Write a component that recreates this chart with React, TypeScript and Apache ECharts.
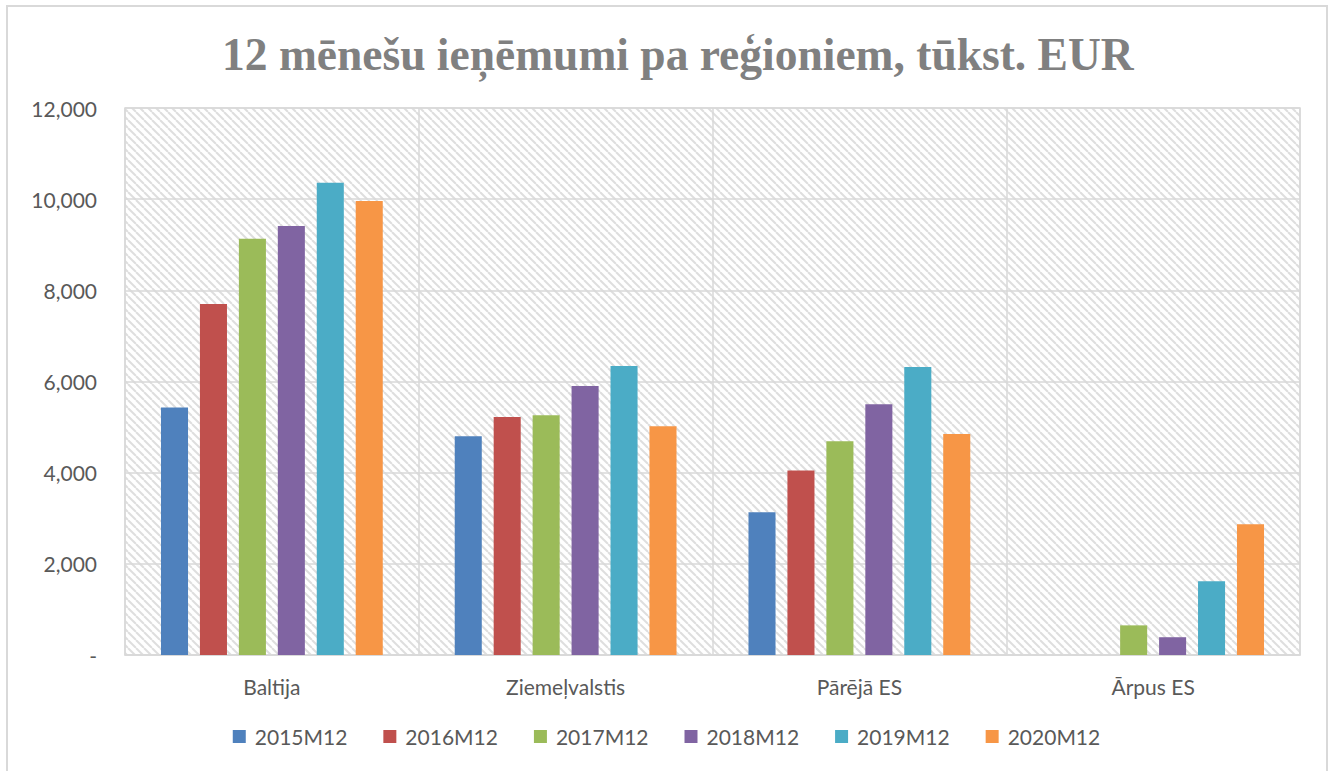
import React, { useEffect, useRef } from "react";
import * as echarts from "echarts";

const categories = ["Baltija", "Ziemeļvalstis", "Pārējā ES", "Ārpus ES"];
const seriesNames = ["2015M12", "2016M12", "2017M12", "2018M12", "2019M12", "2020M12"];
const v2015 = [5430, 4800, 3130, 0];
const v2016 = [7700, 5220, 4050, 0];
const v2017 = [9130, 5260, 4690, 650];
const v2018 = [9410, 5900, 5500, 390];
const v2019 = [10360, 6340, 6320, 1620];
const v2020 = [9960, 5020, 4850, 2870];
const seriesValues = [v2015, v2016, v2017, v2018, v2019, v2020];
const colors = ["#4F81BD", "#C0504D", "#9BBB59", "#8064A2", "#4BACC6", "#F79646"];
const yTicks = { min: 0, max: 12000, interval: 2000 };
const title = "12 mēnešu ieņēmumi pa reģioniem, tūkst. EUR";

function makePattern(): string {
  const c = document.createElement("canvas");
  c.width = 8;
  c.height = 8;
  const ctx = c.getContext("2d")!;
  ctx.fillStyle = "#ffffff";
  ctx.fillRect(0, 0, 8, 8);
  ctx.strokeStyle = "#dedede";
  ctx.lineWidth = 2;
  for (let k = -8; k <= 8; k += 8) {
    ctx.beginPath();
    ctx.moveTo(k, 0);
    ctx.lineTo(k + 8, 8);
    ctx.stroke();
  }
  return c.toDataURL();
}

export default function App() {
  const ref = useRef<HTMLDivElement>(null);
  useEffect(() => {
    if (!ref.current) return;
    const chart = echarts.init(ref.current, null, { renderer: "svg" });
    const font = "Lato";
    chart.setOption({
      animation: false,
      backgroundColor: "#ffffff",
      title: {
        text: title,
        left: 217,
        top: 26,
        textStyle: {
          fontFamily: "Liberation Serif",
          fontWeight: "bold",
          fontSize: 45.5,
          color: "#808080",
        },
      },
      graphic: [
        {
          type: "rect",
          shape: { x: 7, y: 6, width: 1320, height: 800 },
          style: { fill: "none", stroke: "#d9d9d9", lineWidth: 2 },
          silent: true,
          z: -1,
        },
      ],
      legend: {
        bottom: 19,
        left: "center",
        itemWidth: 13,
        itemHeight: 13,
        itemGap: 36,
        icon: "rect",
        textStyle: { fontFamily: font, fontSize: 21, color: "#595959", padding: [0, 0, 0, 4] },
        data: seriesNames,
      },
      grid: {
        left: 125,
        right: 33,
        top: 108,
        bottom: 116,
        show: true,
        backgroundColor: { image: makePattern(), repeat: "repeat" },
        borderColor: "#d9d9d9",
        borderWidth: 1.5,
      },
      xAxis: {
        type: "category",
        data: categories,
        axisLine: { lineStyle: { color: "#d9d9d9", width: 1.5 } },
        axisTick: { show: false },
        axisLabel: { fontFamily: font, fontSize: 21, color: "#595959", margin: 21 },
        splitLine: { show: true, lineStyle: { color: "#d9d9d9", width: 1.5 } },
      },
      yAxis: {
        type: "value",
        min: yTicks.min,
        max: yTicks.max,
        interval: yTicks.interval,
        axisLine: { show: false },
        axisTick: { show: false },
        axisLabel: {
          fontFamily: font,
          fontSize: 21,
          color: "#595959",
          margin: 28,
          formatter: (v: number) => (v === 0 ? "-" : v.toLocaleString("en-US")),
        },
        splitLine: { lineStyle: { color: "#d9d9d9", width: 1.5 } },
      },
      series: seriesNames.map((name, i) => ({
        name,
        type: "bar",
        data: seriesValues[i],
        itemStyle: { color: colors[i] },
        barGap: "44%",
        barCategoryGap: "24.5%",
      })),
    });
    return () => chart.dispose();
  }, []);
  return (
    <div
      ref={ref}
      style={{ position: "absolute", left: 0, top: 0, width: 1333, height: 771 }}
    />
  );
}
